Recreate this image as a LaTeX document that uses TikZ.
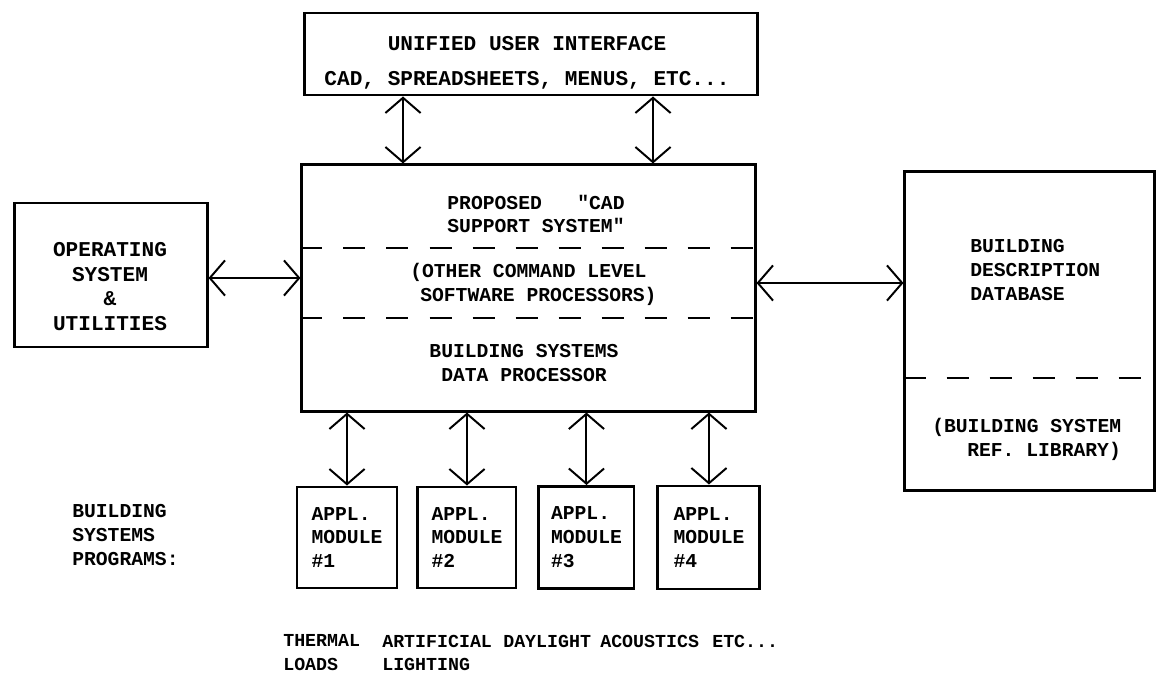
\documentclass[tikz,border=0pt]{standalone}
\usepackage{fontspec}
\newfontfamily\typew{Liberation Mono}
\usetikzlibrary{arrows.meta, positioning}

\begin{document}
\begin{tikzpicture}[
  x=0.025cm, y=-0.025cm,
  blk/.style={rectangle, draw=black, line width=2.1pt, inner sep=0pt, align=left,
              font=\typew\bfseries\fontsize{14}{17}\selectfont},
  txt/.style={inner sep=0pt, align=left, font=\typew\bfseries\fontsize{14}{17}\selectfont},
  bigtxt/.style={txt, font=\typew\bfseries\fontsize{15}{17.5}\selectfont},
  bottxt/.style={txt, anchor=north west, font=\typew\bfseries\fontsize{13}{16.5}\selectfont},
  arr/.style={{Straight Barb[length=0.38cm,width=0.88cm]}-{Straight Barb[length=0.38cm,width=0.88cm]},
              line width=1.4pt},
  sep/.style={line width=2pt, dash pattern=on 0.55cm off 0.525cm}
]
\useasboundingbox (0,0) rectangle (1160,677);

% ---- Top: user interface ----
\node[blk, minimum width=11.3cm, minimum height=2.05cm] (uui) at (531,54) {};
\node[bigtxt, anchor=north, align=center] (uuitxt) at (527,36.5) {UNIFIED USER INTERFACE\\[0.26cm]CAD, SPREADSHEETS, MENUS, ETC...};

% ---- Centre: CAD support system ----
\node[blk, minimum width=11.325cm, minimum height=6.15cm] (cad) at (528.5,288) {};
\node[txt, anchor=north, align=center] (cadtop) at (536,194.5) {PROPOSED\ \ \ "CAD\\SUPPORT SYSTEM"};
\draw[sep] (cad.west |- 0,248) -- (cad.east |- 0,248);
\node[txt, anchor=north west] (cadmid) at (410,263) {(OTHER COMMAND LEVEL\\\hspace*{0.25cm}SOFTWARE PROCESSORS)};
\draw[sep] (cad.west |- 0,318) -- (cad.east |- 0,318);
\node[txt, anchor=north, align=center] (cadbot) at (524,344.5) {BUILDING SYSTEMS\\DATA PROCESSOR};

\draw[arr] (uui.south -| 403,0) -- (cad.north -| 403,0);
\draw[arr] (uui.south -| 653,0) -- (cad.north -| 653,0);

% ---- Left: operating system ----
\node[blk, minimum width=4.8cm, minimum height=3.6cm] (os) at (111,275) {};
\node[bigtxt, align=center, anchor=north] (ostxt) at (110,242) {OPERATING\\SYSTEM\\\&\\UTILITIES};
\draw[arr] (os.east |- 0,278) -- (cad.west |- 0,278);

% ---- Right: description database ----
\node[blk, minimum width=6.225cm, minimum height=7.95cm] (db) at (1029.5,331) {};
\node[txt, anchor=north west] (dbtxt) at (970,239.5) {BUILDING\\DESCRIPTION\\DATABASE};
\draw[sep] (db.west |- 0,378) -- (db.east |- 0,378);
\node[txt, anchor=north west] (libtxt) at (932,418) {(BUILDING SYSTEM\\\hspace*{0.875cm}REF. LIBRARY)};
\draw[arr] (cad.east |- 0,283) -- (db.west |- 0,283);

% ---- Bottom: application modules ----
\node[txt, anchor=north west] (bsp) at (72,504.5) {BUILDING\\SYSTEMS\\PROGRAMS:};
\node[blk, minimum width=2.5cm, minimum height=2.525cm] (m1) at (347,537.5) {APPL.\\MODULE\\\#1};
\node[blk, minimum width=2.45cm, minimum height=2.525cm, right=0.45cm of m1] (m2) {APPL.\\MODULE\\\#2};
\node[blk, minimum width=2.375cm, minimum height=2.55cm, right=0.5cm of m2] (m3) {APPL.\\MODULE\\\#3};
\node[blk, minimum width=2.55cm, minimum height=2.575cm, right=0.525cm of m3] (m4) {APPL.\\MODULE\\\#4};

\foreach \m in {m1,m2,m3,m4}
  \draw[arr] (cad.south -| \m.north) -- (\m.north);

\node[bottxt] (thermal) at (283,634.5) {THERMAL\\LOADS};
\node[bottxt] (artif) at (382,634.5) {ARTIFICIAL\\LIGHTING};
\node[bottxt] (daylt) at (503,634.5) {DAYLIGHT};
\node[bottxt] (acoust) at (600,634.5) {ACOUSTICS};
\node[bottxt] (etc) at (712,634.5) {ETC...};

\end{tikzpicture}
\end{document}
